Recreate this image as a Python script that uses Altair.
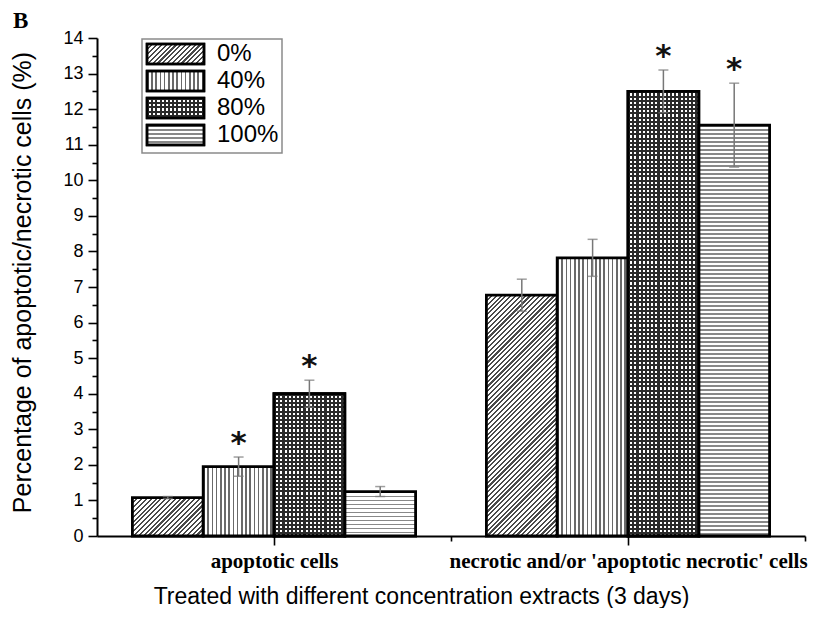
import math
import json
import altair as alt

# ---------------- data ----------------
categories = ["apoptotic cells", "necrotic and/or 'apoptotic necrotic' cells"]
concentrations = ["0%", "40%", "80%", "100%"]
apoptotic_mean = [1.08, 1.95, 4.00, 1.25]
apoptotic_sd = [0.03, 0.27, 0.38, 0.14]
apoptotic_sig = [0, 1, 1, 0]
necrotic_mean = [6.77, 7.82, 12.50, 11.55]
necrotic_sd = [0.45, 0.52, 0.60, 1.18]
necrotic_sig = [0, 0, 1, 1]
y_tick_values = [i * 0.5 for i in range(29)]
x_tick_values = [1, 2, 3, 4]

# ---------------- layout / style ----------------
W, H = 708, 498
YMAX, XMAX = 14, 4
BAR_W = 0.4 * W / XMAX
PX_PER_UNIT = H / YMAX


def stripe_stops(length, period, frac, dark, light):
    n = max(1, math.ceil(length / period))
    stops = []
    for i in range(n):
        a = min(1.0, i * period / length)
        b = min(1.0, (i + frac) * period / length)
        c = min(1.0, (i + 1) * period / length)
        stops += [
            {"offset": round(a, 5), "color": dark},
            {"offset": round(b, 5), "color": dark},
            {"offset": round(b, 5), "color": light},
            {"offset": round(c, 5), "color": light},
        ]
    return stops


def gradient(kind, w, h, period, frac, dark, light):
    if kind == "diag":
        L = (w + h) / math.sqrt(2)
        k = (w + h) / (w * w + h * h)
        x2, y2 = k * w, k * h
    elif kind == "vert":
        L, x2, y2 = w, 1, 0
    else:
        L, x2, y2 = h, 0, 1
    return {"gradient": "linear", "x1": 0, "y1": 0, "x2": round(x2, 5), "y2": round(y2, 5),
            "stops": stripe_stops(L, period, frac, dark, light)}


CLEAR = {"gradient": "linear", "stops": [{"offset": 0, "color": "rgba(0,0,0,0)"},
                                         {"offset": 1, "color": "rgba(0,0,0,0)"}]}

patterns = {
    "0%": ("diag", 3.4, 0.45, "#4a4a4a", "#ffffff"),
    "40%": ("vert", 4.2, 0.38, "#6a6a6a", "#ffffff"),
    "80%": ("vert", 4.2, 0.5, "#2a2a2a", "#ffffff"),
    "100%": ("horiz", 4.0, 0.42, "#888888", "#ffffff"),
}
overlay = ("horiz", 4.2, 0.5, "#2a2a2a", "rgba(255,255,255,0)")

SW_W, SW_H = 57, 20

records = []
for gi, (means, sds, sigs) in enumerate([(apoptotic_mean, apoptotic_sd, apoptotic_sig),
                                          (necrotic_mean, necrotic_sd, necrotic_sig)]):
    for ci, conc in enumerate(concentrations):
        h = means[ci] * PX_PER_UNIT
        kind, per, frac, dark, light = patterns[conc]
        rec = {
            "group": categories[gi], "conc": conc, "gi": gi, "ci": ci,
            "mean": means[ci], "sd": sds[ci], "sig": sigs[ci],
            "pattern": gradient(kind, BAR_W, h, per, frac, dark, light),
            "pattern2": gradient(overlay[0], BAR_W, h, *overlay[1:]) if conc == "80%" else CLEAR,
        }
        records.append(rec)

legend_range = [alt.ExprRef(expr=json.dumps(gradient(patterns[c][0], SW_W, SW_H, *patterns[c][1:])))
                for c in concentrations]
legend_range2 = [alt.ExprRef(expr=json.dumps(
    gradient(overlay[0], SW_W, SW_H, *overlay[1:]) if c == "80%" else CLEAR))
    for c in concentrations]

data = alt.Data(values=records)

base = alt.Chart(data).transform_calculate(
    xc="1 + 2 * datum.gi + (datum.ci - 1.5) * 0.4",
    x0="1 + 2 * datum.gi + (datum.ci - 1.5) * 0.4 - 0.2",
    x1="1 + 2 * datum.gi + (datum.ci - 1.5) * 0.4 + 0.2",
    lo="datum.mean - datum.sd",
    hi="datum.mean + datum.sd",
)

label_expr = ("datum.value == 1 ? " + json.dumps(categories[0]) +
              " : datum.value == 3 ? " + json.dumps(categories[1]) + " : ''")

x_scale = alt.Scale(domain=[0, XMAX], nice=False, zero=False)
y_scale = alt.Scale(domain=[0, YMAX], nice=False)

x_axis = alt.Axis(
    values=x_tick_values, labelExpr=label_expr, labelOverlap=False, labelFlush=False,
    labelBound=False, labelLimit=600,
    tickSize={"condition": {"test": "datum.value == 1 || datum.value == 3", "value": 9}, "value": 5},
    labelFont="Liberation Serif", labelFontWeight="bold", labelFontSize=21, labelColor="black",
    labelPadding=5,
    title="Treated with different concentration extracts (3 days)",
    titleFont="Liberation Sans", titleFontSize=23, titleFontWeight="normal", titleColor="black",
    titleX=324, titleY=67, titleAlign="center", titleBaseline="alphabetic",
)
y_axis = alt.Axis(
    values=y_tick_values, labelOverlap=False, tickCount=29,
    labelExpr="abs(datum.value - round(datum.value)) < 0.01 ? format(datum.value, 'd') : ''",
    tickSize={"condition": {"test": "abs(datum.value - round(datum.value)) < 0.01", "value": 9},
              "value": 5},
    labelFont="Liberation Sans", labelFontSize=18, labelColor="black", labelPadding=5,
    title="Percentage of apoptotic/necrotic cells (%)",
    titleFont="Liberation Sans", titleFontSize=25, titleFontWeight="normal", titleColor="black",
    titleX=-67, titleY=H / 2 - 5, titleAngle=270, titleAlign="center", titleBaseline="alphabetic",
)


def X(field):
    return alt.X(field, scale=x_scale, axis=x_axis)


def Y(field):
    return alt.Y(field, scale=y_scale, axis=y_axis, stack=None)


bars = base.mark_bar(stroke="black", strokeWidth=2.8).encode(
    x=X("x0:Q"), x2="x1:Q", y=Y("mean:Q"), y2=alt.datum(0),
    fill=alt.Fill("pattern:N", scale=None),
)
bars2 = base.mark_bar(stroke="black", strokeWidth=2.8).encode(
    x=X("x0:Q"), x2="x1:Q", y=Y("mean:Q"), y2=alt.datum(0),
    fill=alt.Fill("pattern2:N", scale=None),
).transform_filter("datum.ci == 2")

err_rule = base.mark_rule(color="#777777", strokeWidth=1.5).encode(
    x=X("xc:Q"), y=Y("lo:Q"), y2="hi:Q")
cap_lo = base.mark_tick(orient="horizontal", size=10, thickness=1.5, color="#777777").encode(
    x=X("xc:Q"), y=Y("lo:Q"))
cap_hi = base.mark_tick(orient="horizontal", size=10, thickness=1.5, color="#777777").encode(
    x=X("xc:Q"), y=Y("hi:Q"))
stars = base.mark_text(text="*", font="DejaVu Sans", fontWeight="bold", fontSize=31,
                       baseline="alphabetic", dy=-4, color="#111111").encode(
    x=X("xc:Q"), y=Y("hi:Q")).transform_filter("datum.sig == 1")

# legend swatch: a 57x20 box drawn with a small symbol size (row height ~20)
SYMBOL_PATH = "M-1,-1L4.7,-1L4.7,1L-1,1Z"
SYM_SIZE = 400
ROW_PAD = -3
LABEL_OFF = 48
LABEL_SIZE = 24
LEG_PAD = 3
LEG_X, LEG_Y = 45, 1

legend_a = alt.Chart(data).mark_bar(stroke="black", strokeWidth=2.5).encode(
    fill=alt.Fill("conc:N",
                  scale=alt.Scale(domain=concentrations, range=legend_range),
                  legend=alt.Legend(
                      title=None, orient="none", legendX=LEG_X, legendY=LEG_Y, direction="vertical",
                      symbolType=SYMBOL_PATH, symbolSize=SYM_SIZE,
                      symbolStrokeColor="black", symbolStrokeWidth=2.5, symbolOpacity=1,
                      labelFont="Liberation Sans", labelFontSize=LABEL_SIZE, labelColor="black",
                      labelOffset=LABEL_OFF, rowPadding=ROW_PAD, padding=LEG_PAD,
                      strokeColor="#8a8a8a", fillColor="white",
                  ))
).transform_filter("false")

legend_b = alt.Chart(data).mark_bar(stroke="black", strokeWidth=2.5).encode(
    fill=alt.Fill("conc:N",
                  scale=alt.Scale(domain=concentrations, range=legend_range2),
                  legend=alt.Legend(
                      title=None, orient="none", legendX=LEG_X, legendY=LEG_Y, direction="vertical",
                      symbolType=SYMBOL_PATH, symbolSize=SYM_SIZE,
                      symbolStrokeColor="black", symbolStrokeWidth=2.5, symbolOpacity=1,
                      labelFont="Liberation Sans", labelFontSize=LABEL_SIZE,
                      labelColor="rgba(0,0,0,0)",
                      labelOffset=LABEL_OFF, rowPadding=ROW_PAD, padding=LEG_PAD,
                      strokeColor="rgba(0,0,0,0)", fillColor="rgba(0,0,0,0)",
                  ))
).transform_filter("false")

chart = alt.layer(bars, bars2, err_rule, cap_lo, cap_hi, stars, legend_a, legend_b).resolve_scale(
    fill="independent"
).properties(
    width=W, height=H,
    autosize=alt.AutoSizeParams(type="none"),
    padding={"left": 89, "top": 30, "right": 14, "bottom": 72},
    title=alt.TitleParams(text="B", anchor="start", frame="group", font="Liberation Serif",
                          fontSize=23, fontWeight="bold", color="black", dx=-84, dy=12, offset=8),
).configure_view(stroke=None).configure_axis(
    grid=False, domainColor="black", domainWidth=2, tickColor="black", tickWidth=1.6,
).configure_legend(strokeWidth=1.5)

chart.save("out.html", embed_options={"renderer": "svg", "actions": False})
